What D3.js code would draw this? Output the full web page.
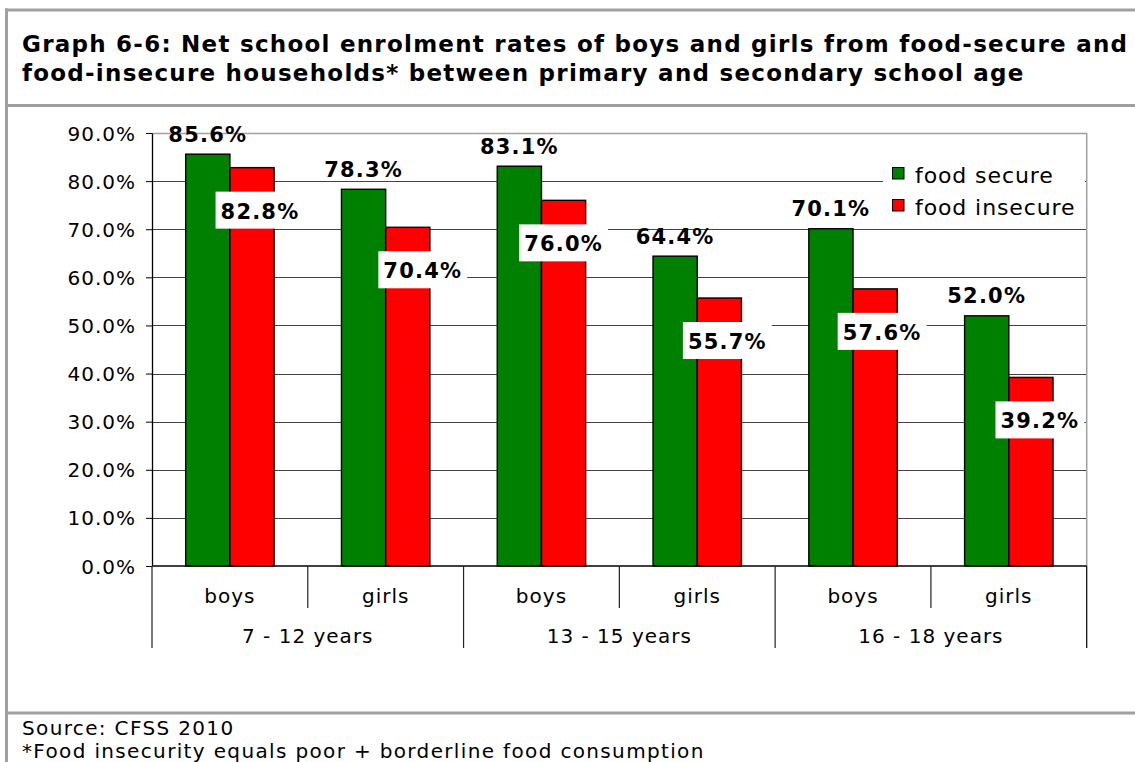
<!DOCTYPE html>
<html>
<head>
<meta charset="utf-8">
<script src="https://cdn.jsdelivr.net/npm/d3@7"></script>
<style>
  html, body { margin: 0; padding: 0; background: #fff; }
  svg { display: block; }
  text { font-family: "DejaVu Sans", Verdana, sans-serif; fill: #000; }
</style>
</head>
<body>
<svg id="chart" width="1135" height="762"></svg>
<script>
// ---- data -------------------------------------------------------------
const titleLines = [
  "Graph 6-6: Net school enrolment rates of boys and girls from food-secure and",
  "food-insecure households* between primary and secondary school age"
];
const ageGroups = ["7 - 12 years", "13 - 15 years", "16 - 18 years"];
const sexes = ["boys", "girls"];
const seriesNames = ["food secure", "food insecure"];
const seriesColors = ["#008000", "#ff0000"];
const foodSecure   = [85.6, 78.3, 83.1, 64.4, 70.1, 52.0];
const foodInsecure = [82.8, 70.4, 76.0, 55.7, 57.6, 39.2];
const yTicks = [0, 10, 20, 30, 40, 50, 60, 70, 80, 90];
const footnotes = [
  "Source: CFSS 2010",
  "*Food insecurity equals poor + borderline food consumption"
];
// small horizontal nudges for the boxed "food insecure" labels
const insecureLabelNudge = [8, 15, 0, 8, 7, 9];

// ---- layout -----------------------------------------------------------
const plot = { left: 152, right: 1086.7, top: 133, bottom: 566 };
const frameColor = "#a0a0a0";

const svg = d3.select("#chart");

// categories: one slot per (age group, sex)
const cats = [];
ageGroups.forEach((g, gi) => sexes.forEach((s, si) => {
  const i = gi * sexes.length + si;
  cats.push({ id: i, group: g, sex: s, values: [foodSecure[i], foodInsecure[i]] });
}));

const x0 = d3.scaleBand()
  .domain(cats.map(d => d.id))
  .range([plot.left, plot.right])
  .padding(0);

const x1 = d3.scaleBand()
  .domain(seriesNames)
  .range([0, x0.bandwidth()])
  .paddingInner(0)
  .paddingOuter(0.762);

const y = d3.scaleLinear().domain([0, 90]).range([plot.bottom, plot.top]);

// ---- outer frame ------------------------------------------------------
svg.append("rect").attr("x", 5).attr("y", 8.5).attr("width", 1135).attr("height", 3).attr("fill", frameColor);
svg.append("rect").attr("x", 5).attr("y", 8.5).attr("width", 3).attr("height", 762).attr("fill", frameColor);
svg.append("rect").attr("x", 5).attr("y", 104).attr("width", 1135).attr("height", 3).attr("fill", frameColor);
svg.append("rect").attr("x", 5).attr("y", 711.5).attr("width", 1135).attr("height", 3).attr("fill", frameColor);

// ---- title ------------------------------------------------------------
svg.append("g").selectAll("text")
  .data(titleLines)
  .join("text")
  .attr("x", 22)
  .attr("y", (d, i) => 52 + i * 29)
  .attr("font-size", 23)
  .attr("letter-spacing", 1.25)
  .attr("font-weight", "bold")
  .text(d => d);

// ---- gridlines --------------------------------------------------------
svg.append("g")
  .selectAll("line")
  .data(yTicks.filter(t => t > 0 && t < 90))
  .join("line")
  .attr("x1", plot.left).attr("x2", plot.right)
  .attr("y1", d => Math.round(y(d)) + 0.5).attr("y2", d => Math.round(y(d)) + 0.5)
  .attr("stroke", "#444").attr("stroke-width", 1);

// plot area border (top and right)
svg.append("path")
  .attr("d", `M${plot.left},${plot.top + 0.5}H${plot.right}V${plot.bottom}`)
  .attr("fill", "none").attr("stroke", frameColor).attr("stroke-width", 1.5);

// ---- y axis -----------------------------------------------------------
const yAxis = svg.append("g")
  .attr("transform", `translate(${plot.left},0)`)
  .call(d3.axisLeft(y).tickValues(yTicks).tickFormat(d => d.toFixed(1) + "%")
    .tickSizeInner(6).tickSizeOuter(0).tickPadding(10));
yAxis.select(".domain").attr("stroke", "#000").attr("stroke-width", 1.3);
yAxis.selectAll(".tick line").attr("stroke", "#000");
yAxis.selectAll(".tick text")
  .attr("font-size", 20)
  .attr("letter-spacing", 1)
  .attr("font-family", "DejaVu Sans, Verdana, sans-serif")
  .attr("fill", "#000")
  .attr("dy", "0.35em");

// ---- bars -------------------------------------------------------------
const catG = svg.append("g").selectAll("g")
  .data(cats)
  .join("g")
  .attr("transform", d => `translate(${x0(d.id)},0)`);

catG.selectAll("rect")
  .data(d => d.values.map((v, k) => ({ key: seriesNames[k], value: v, color: seriesColors[k] })))
  .join("rect")
  .attr("x", d => x1(d.key))
  .attr("y", d => y(d.value))
  .attr("width", x1.bandwidth())
  .attr("height", d => y(0) - y(d.value))
  .attr("fill", d => d.color)
  .attr("stroke", "#000")
  .attr("stroke-width", 1.4);

// ---- category axis (two levels) ---------------------------------------
const catAxis = svg.append("g");
catAxis.append("line")
  .attr("x1", plot.left).attr("x2", plot.right)
  .attr("y1", plot.bottom).attr("y2", plot.bottom)
  .attr("stroke", "#000").attr("stroke-width", 1.3);

const boundaries = d3.range(cats.length + 1).map(i =>
  i < cats.length ? x0(i) : x0(cats.length - 1) + x0.bandwidth());
catAxis.selectAll("line.sep")
  .data(boundaries)
  .join("line")
  .attr("class", "sep")
  .attr("x1", d => d).attr("x2", d => d)
  .attr("y1", plot.bottom)
  .attr("y2", (d, i) => i % sexes.length === 0 ? 648 : 608)
  .attr("stroke", (d, i) => i === boundaries.length - 1 ? "#000" : "#222")
  .attr("stroke-width", 1.2);

catAxis.selectAll("text.sex")
  .data(cats)
  .join("text")
  .attr("class", "sex")
  .attr("x", d => x0(d.id) + x0.bandwidth() / 2)
  .attr("y", 603)
  .attr("text-anchor", "middle")
  .attr("font-size", 20)
  .attr("letter-spacing", 1)
  .text(d => d.sex);

catAxis.selectAll("text.grp")
  .data(ageGroups)
  .join("text")
  .attr("class", "grp")
  .attr("x", (d, gi) => (boundaries[gi * 2] + boundaries[gi * 2 + 2]) / 2)
  .attr("y", 643)
  .attr("text-anchor", "middle")
  .attr("font-size", 20)
  .attr("letter-spacing", 1)
  .text(d => d);

// ---- value labels -----------------------------------------------------
const fmt = v => v.toFixed(1) + "%";

// food secure: centred above the bar
svg.append("g").selectAll("text")
  .data(cats)
  .join("text")
  .attr("x", d => x0(d.id) + x1(seriesNames[0]) + x1.bandwidth() / 2)
  .attr("y", d => y(d.values[0]) - 12.5)
  .attr("text-anchor", "middle")
  .attr("font-size", 21)
  .attr("letter-spacing", 1.2)
  .attr("font-weight", "bold")
  .text(d => fmt(d.values[0]));

// food insecure: white box inside the top of the bar
const insG = svg.append("g").selectAll("g")
  .data(cats)
  .join("g")
  .attr("transform", d => `translate(${x0(d.id) + x1(seriesNames[1]) + x1.bandwidth() / 2 + insecureLabelNudge[d.id]},${y(d.values[1]) + 51})`);

insG.append("rect").attr("class", "bg").attr("fill", "#fff");
insG.append("text")
  .attr("text-anchor", "middle")
  .attr("font-size", 21)
  .attr("letter-spacing", 1.2)
  .attr("font-weight", "bold")
  .text(d => fmt(d.values[1]));
insG.each(function () {
  const g = d3.select(this);
  const w = g.select("text").node().getComputedTextLength();
  g.select("rect")
    .attr("x", -w / 2 - 5).attr("width", w + 10)
    .attr("y", -27).attr("height", 37);
});

// ---- legend -----------------------------------------------------------
const legend = svg.append("g");
legend.append("rect")
  .attr("x", 883).attr("y", 148).attr("width", 202).attr("height", 80)
  .attr("fill", "#fff");
const li = legend.selectAll("g.item")
  .data(seriesNames)
  .join("g")
  .attr("class", "item")
  .attr("transform", (d, i) => `translate(892.5,${167.5 + i * 32})`);
li.append("rect")
  .attr("width", 11.5).attr("height", 11.5)
  .attr("fill", (d, i) => seriesColors[i])
  .attr("stroke", "#000").attr("stroke-width", 1);
li.append("text")
  .attr("x", 22.5).attr("y", 15.5)
  .attr("font-size", 22)
  .attr("letter-spacing", 0.9)
  .text(d => d);

// ---- footnotes --------------------------------------------------------
svg.append("g").selectAll("text")
  .data(footnotes)
  .join("text")
  .attr("x", 22)
  .attr("y", (d, i) => 735 + i * 23)
  .attr("font-size", 20)
  .attr("letter-spacing", 1.35)
  .text(d => d);
</script>
</body>
</html>
